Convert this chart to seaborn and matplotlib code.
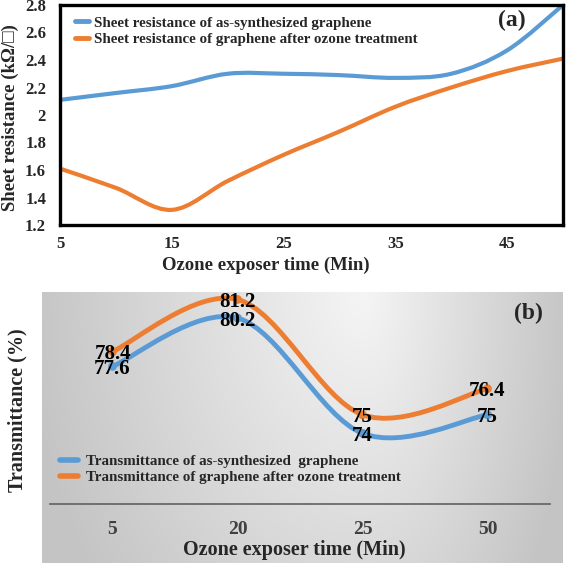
import numpy as np
import pandas as pd
import seaborn as sns
import matplotlib.pyplot as plt
from matplotlib.path import Path
from matplotlib.patches import PathPatch
from matplotlib.lines import Line2D

# (a) sheet resistance vs ozone time
time_a = [5, 10, 15, 20, 25, 30, 35, 40, 45, 50]
rs_asgrown = [2.11, 2.16, 2.21, 2.30, 2.30, 2.29, 2.27, 2.30, 2.47, 2.80]
rs_ozone = [1.61, 1.47, 1.31, 1.52, 1.71, 1.88, 2.06, 2.20, 2.32, 2.41]
yticks_a = [1.2, 1.4, 1.6, 1.8, 2.0, 2.2, 2.4, 2.6, 2.8]
ylabels_a = ['1.2', '1.4', '1.6', '1.8', '2', '2.2', '2.4', '2.6', '2.8']
xticks_a = [5, 15, 25, 35, 45]

# (b) transmittance
time_b = ['5', '20', '25', '50']
tr_asgrown = [77.6, 80.2, 74, 75]
tr_ozone = [78.4, 81.2, 75, 76.4]

BLUE = '#5B9BD5'
ORANGE = '#ED7D31'

sns.set_style('white')
plt.rcParams['font.family'] = ['Liberation Serif', 'DejaVu Serif']
plt.rcParams['font.weight'] = 'bold'


def smooth_path(x, y):
    # excel style smoothed line (catmull-rom as cubic bezier)
    pts = np.column_stack([x, y]).astype(float)
    ext = np.vstack([pts[0], pts, pts[-1]])
    verts = [pts[0]]
    codes = [Path.MOVETO]
    for i in range(1, len(ext) - 2):
        p0, p1, p2, p3 = ext[i - 1], ext[i], ext[i + 1], ext[i + 2]
        verts += [p1 + (p2 - p0) / 6, p2 - (p3 - p1) / 6, p2]
        codes += [Path.CURVE4] * 3
    return Path(verts, codes)


fig = plt.figure(figsize=(5.66, 5.65), dpi=100)

# ---------------- (a)
ax1 = fig.add_axes([60 / 566, 1 - 225 / 565, 503 / 566, 220 / 565])
for ys, c in [(rs_asgrown, BLUE), (rs_ozone, ORANGE)]:
    ax1.add_patch(PathPatch(smooth_path(time_a, ys), fill=False, edgecolor=c,
                            lw=3, capstyle='round'))
ax1.set_xlim(5, 50)
ax1.set_ylim(1.2, 2.8)
ax1.set_yticks(yticks_a)
ax1.set_yticklabels(ylabels_a)
ax1.set_xticks(xticks_a)
ax1.tick_params(axis='y', length=0, labelsize=12, pad=10)
ax1.tick_params(axis='x', length=0, labelsize=12, pad=8)
for s in ax1.spines.values():
    s.set_color('black')
    s.set_linewidth(2.4)
ax1.set_xlabel('Ozone exposer time (Min)', fontsize=13.5, fontweight='bold')
ax1.xaxis.set_label_coords(0.41, -0.143)
ax1.set_ylabel('Sheet resistance (kΩ/□)', fontsize=13.5, fontweight='bold')
ax1.yaxis.set_label_coords(-0.082, 0.49)
ax1.text(512, 565 - 20, '(a)', transform=None, fontsize=17,
         fontweight='bold', ha='center', va='center')
handles_a = [Line2D([], [], color=BLUE, lw=3.5),
             Line2D([], [], color=ORANGE, lw=3.5)]
ax1.legend(handles_a, ['Sheet resistance of as-synthesized graphene',
                       'Sheet resistance of graphene after ozone treatment'],
           loc='upper left', bbox_to_anchor=(75 / 566, 1 - 16 / 565),
           bbox_transform=fig.transFigure, frameon=False,
           handlelength=0.9, handletextpad=0.4, labelspacing=0.2,
           borderpad=0, borderaxespad=0, prop={'weight': 'bold', 'size': 10.8})

# ---------------- (b) background
bg = fig.add_axes([42 / 566, 2 / 565, 521 / 566, 271 / 565], zorder=0)
gx = np.linspace(0, 1, 200)
gy = np.linspace(0, 1, 100)
GX, GY = np.meshgrid(gx, gy)
sx = np.where(GX < 0.62, (GX - 0.62) / 0.62, (GX - 0.62) / 0.38)
d = np.minimum(np.sqrt(sx ** 2 + (GY * 0.6) ** 2), 1.05)
v = 0.96 - 0.18 * d
bg.imshow(np.dstack([v, v, v]), aspect='auto', extent=(0, 1, 1, 0))
bg.set_axis_off()

ax2 = fig.add_axes([50 / 566, 1 - 504 / 565, 500 / 566, 212 / 565], zorder=1)
ax2.patch.set_alpha(0)
pos = np.arange(len(time_b))
for ys, c in [(tr_asgrown, BLUE), (tr_ozone, ORANGE)]:
    ax2.add_patch(PathPatch(smooth_path(pos, ys), fill=False, edgecolor=c,
                            lw=3.5, capstyle='round'))
    sns.scatterplot(x=pos, y=ys, color=c, s=40, edgecolor='none', ax=ax2,
                    zorder=3)
    for xi, yi in zip(pos, ys):
        ax2.text(xi, yi, f'{yi:g}', ha='center', va='center_baseline',
                 fontsize=15, fontweight='bold', color='black', zorder=4)
ax2.set_xlim(-0.5, 3.5)
ax2.set_ylim(70.2, 81.6)
ax2.set_xticks(pos)
ax2.set_xticklabels(time_b)
ax2.set_yticks([])
ax2.tick_params(axis='x', length=0, labelsize=14, pad=12, labelcolor='#404040')
for k in ['top', 'left', 'right']:
    ax2.spines[k].set_visible(False)
ax2.spines['bottom'].set_color('#606060')
ax2.spines['bottom'].set_linewidth(1.2)
ax2.set_xlabel('Ozone exposer time (Min)', fontsize=14.5, fontweight='bold')
ax2.xaxis.set_label_coords(0.488, -0.17)
ax2.set_ylabel('Transmittance (%)', fontsize=14.5, fontweight='bold')
ax2.yaxis.set_label_coords(-0.046, 0.443)
ax2.text(528, 565 - 313, '(b)', transform=None, fontsize=17,
         fontweight='bold', ha='center', va='center')
handles_b = [Line2D([], [], color=BLUE, lw=4),
             Line2D([], [], color=ORANGE, lw=4)]
ax2.legend(handles_b, ['Transmittance of as-synthesized  graphene',
                       'Transmittance of graphene after ozone treatment'],
           loc='upper left', bbox_to_anchor=(60 / 566, 1 - 455 / 565),
           bbox_transform=fig.transFigure, frameon=False,
           handlelength=1.2, handletextpad=0.55, labelspacing=0.12,
           borderpad=0, borderaxespad=0, prop={'weight': 'bold', 'size': 10.8})

fig.savefig('out.png', dpi=100)
